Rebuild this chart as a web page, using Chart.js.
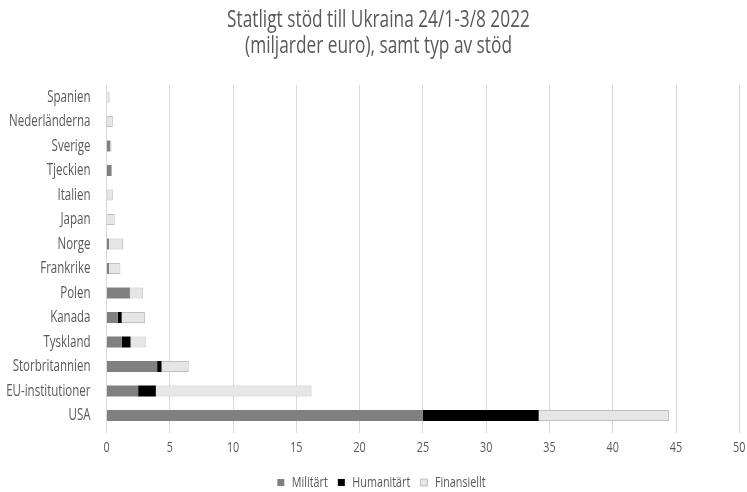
<!DOCTYPE html>
<html>
<head>
<meta charset="utf-8">
<script src="https://cdn.jsdelivr.net/npm/chart.js@4/dist/chart.umd.min.js"></script>
<style>
  html, body { margin: 0; padding: 0; background: #ffffff; }
  #wrap { width: 747px; height: 492px; }
</style>
</head>
<body>
<div id="wrap"><canvas id="c" width="747" height="492"></canvas></div>
<script>
// Statligt stöd till Ukraina 24/1-3/8 2022, miljarder euro, per typ av stöd
const countries = ["Spanien", "Nederländerna", "Sverige", "Tjeckien", "Italien", "Japan", "Norge",
  "Frankrike", "Polen", "Kanada", "Tyskland", "Storbritannien", "EU-institutioner", "USA"];
const militart    = [0.00, 0.05, 0.30, 0.40, 0.05, 0.00, 0.20, 0.20, 1.85, 0.90, 1.20, 4.00, 2.50, 25.00];
const humanitart  = [0.00, 0.00, 0.00, 0.00, 0.00, 0.00, 0.00, 0.00, 0.00, 0.30, 0.70, 0.35, 1.40, 9.15];
const finansiellt = [0.25, 0.45, 0.10, 0.00, 0.45, 0.65, 1.10, 0.90, 1.05, 1.85, 1.20, 2.15, 12.30, 10.30];
const xTicks = [0, 5, 10, 15, 20, 25, 30, 35, 40, 45, 50];

const FONT = "'Open Sans', 'Noto Sans', sans-serif";
const TEXT = '#595959';
const SQUEEZE = 0.72; // horizontal narrowing of all chart text (condensed look)

// Narrow every text run the chart measures and draws by the same factor.
const condensedText = {
  id: 'condensedText',
  beforeInit(chart) {
    const ctx = chart.ctx;
    const measure = ctx.measureText.bind(ctx);
    const fill = ctx.fillText.bind(ctx);
    ctx.measureText = (t) => {
      const m = measure(t);
      return {
        width: m.width * SQUEEZE,
        actualBoundingBoxAscent: m.actualBoundingBoxAscent,
        actualBoundingBoxDescent: m.actualBoundingBoxDescent,
        actualBoundingBoxLeft: m.actualBoundingBoxLeft * SQUEEZE,
        actualBoundingBoxRight: m.actualBoundingBoxRight * SQUEEZE
      };
    };
    ctx.fillText = (t, x, y, maxW) => {
      const w = measure(t).width * SQUEEZE;
      fill(t, x, y, maxW === undefined || maxW === null ? w : Math.min(maxW, w));
    };
  }
};

// Fine placement of the title and legend blocks after the layout pass.
const blockOffsets = {
  id: 'blockOffsets',
  afterLayout(chart) {
    const t = chart.titleBlock;
    if (t) { t.left += 3.5; t.right += 3.5; }
    const l = chart.legend;
    if (l) { l.top += 8; l.bottom += 8; l.left += 6.5; l.right += 6.5; }
  }
};

new Chart(document.getElementById('c'), {
  type: 'bar',
  plugins: [condensedText, blockOffsets],
  data: {
    labels: countries,
    datasets: [
      { label: 'Militärt', data: militart, backgroundColor: '#808080', borderWidth: 0 },
      { label: 'Humanitärt', data: humanitart, backgroundColor: '#000000', borderWidth: 0 },
      { label: 'Finansiellt', data: finansiellt, backgroundColor: '#e6e6e6', borderColor: '#bfbfbf', borderWidth: 1 }
    ]
  },
  options: {
    responsive: false,
    animation: false,
    indexAxis: 'y',
    layout: { padding: { left: 3, right: 0, top: 0, bottom: 0 } },
    datasets: { bar: { categoryPercentage: 1, barPercentage: 0.45 } },
    scales: {
      x: {
        stacked: true,
        min: 0, max: 50,
        afterBuildTicks: (axis) => { axis.ticks = xTicks.map(v => ({ value: v })); },
        afterFit: (axis) => { axis.paddingLeft = 0; axis.paddingRight = 7.7; axis.height = 29.25; },
        grid: { color: '#d9d9d9', lineWidth: 1, drawTicks: true, tickLength: 5 },
        border: { display: false },
        ticks: { color: TEXT, font: { family: FONT, size: 15, lineHeight: 1.2 }, padding: 6.25 }
      },
      y: {
        stacked: true,
        grid: { display: false, drawTicks: false },
        border: { display: false },
        ticks: { color: TEXT, font: { family: FONT, size: 16 }, padding: 16 },
        afterFit: (axis) => { axis.width = 103.5; }
      }
    },
    plugins: {
      title: {
        display: true,
        text: ['Statligt stöd till Ukraina 24/1-3/8 2022', '(miljarder euro), samt typ av stöd'],
        color: TEXT,
        font: { family: FONT, size: 24, weight: 'normal', lineHeight: 1.1 },
        padding: { top: 7, bottom: 25 }
      },
      legend: {
        position: 'bottom',
        labels: { color: TEXT, font: { family: FONT, size: 15 }, boxWidth: 7, boxHeight: 7, padding: 10 }
      },
      tooltip: { enabled: false }
    }
  }
});
</script>
</body>
</html>
